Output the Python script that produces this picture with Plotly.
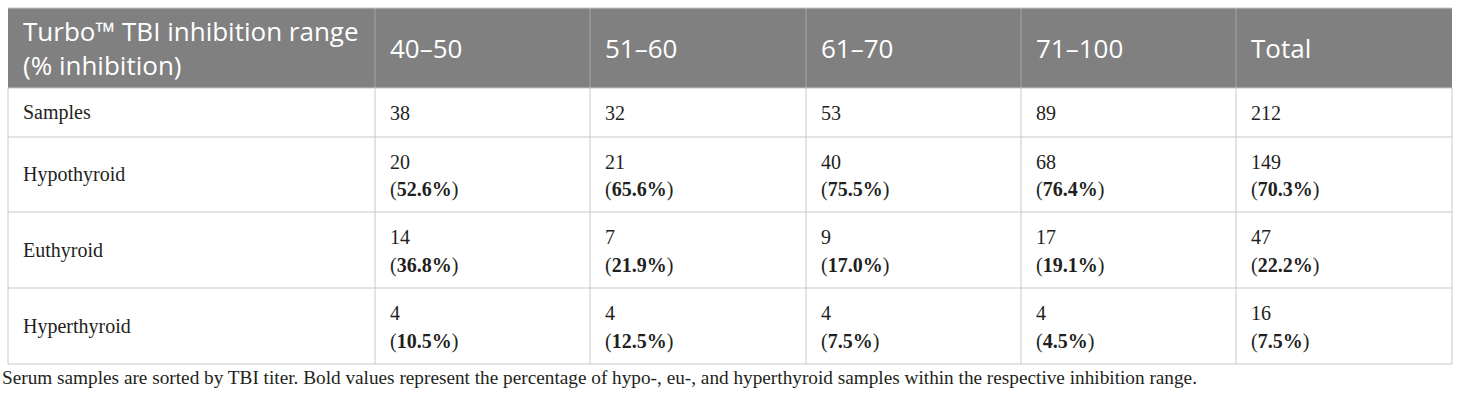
import plotly.graph_objects as go

# ---- data ----
header_label = "Turbo™ TBI inhibition range<br>(% inhibition)"
categories = ["40–50", "51–60", "61–70", "71–100", "Total"]
row_labels = ["Samples", "Hypothyroid", "Euthyroid", "Hyperthyroid"]
samples = [38, 32, 53, 89, 212]
hypo = [20, 21, 40, 68, 149]
hypo_pct = [52.6, 65.6, 75.5, 76.4, 70.3]
eu = [14, 7, 9, 17, 47]
eu_pct = [36.8, 21.9, 17.0, 19.1, 22.2]
hyper = [4, 4, 4, 4, 16]
hyper_pct = [10.5, 12.5, 7.5, 4.5, 7.5]
footnote = ("Serum samples are sorted by TBI titer. Bold values represent the percentage of "
            "hypo-, eu-, and hyperthyroid samples within the respective inhibition range.")

# ---- layout geometry (page pixel coordinates) ----
W, H = 1460, 401
col_edges = [8, 375, 590, 806, 1021, 1236, 1452]
row_edges = [8, 88, 137, 212, 288, 364]
pad = 13
HEAD_FILL = "#7f807f"
HEAD_SEP = "#a3a3a3"
GRID = "#c9c9c9"
TXT = "#231f20"
SANS = "Open Sans"
SERIF = "Liberation Serif"
HEAD_SIZE = 26
BODY_SIZE = 20
FOOT_SIZE = 19.25

fig = go.Figure()
fig.add_trace(go.Scatter(x=[0, W], y=[0, H], mode="markers",
                         marker=dict(opacity=0), hoverinfo="skip", showlegend=False))

shapes = []
ann = []

# header background
shapes.append(dict(type="rect", x0=col_edges[0], x1=col_edges[-1], y0=row_edges[0], y1=row_edges[1],
                   fillcolor=HEAD_FILL, line=dict(width=0), layer="below"))
# header separators
for x in col_edges[1:-1]:
    shapes.append(dict(type="line", x0=x, x1=x, y0=row_edges[0], y1=row_edges[1],
                       line=dict(color=HEAD_SEP, width=1)))
# body grid
for x in col_edges:
    shapes.append(dict(type="line", x0=x, x1=x, y0=row_edges[1], y1=row_edges[-1],
                       line=dict(color=GRID, width=1)))
for y in row_edges:
    shapes.append(dict(type="line", x0=col_edges[0], x1=col_edges[-1], y0=y, y1=y,
                       line=dict(color=GRID, width=1)))

def add_text(x, y, text, size, family, color):
    ann.append(dict(x=x, y=y, xref="x", yref="y", text=text, showarrow=False,
                    xanchor="left", yanchor="middle", align="left",
                    font=dict(size=size, family=family, color=color)))

# header texts
hy = (row_edges[0] + row_edges[1]) / 2
add_text(col_edges[0] + pad, hy, header_label, HEAD_SIZE, SANS, "white")
for i, c in enumerate(categories):
    add_text(col_edges[i + 1] + pad, hy, c, HEAD_SIZE, SANS, "white")

# body
counts = [samples, hypo, eu, hyper]
pcts = [None, hypo_pct, eu_pct, hyper_pct]
for r, lab in enumerate(row_labels):
    y0, y1 = row_edges[r + 1], row_edges[r + 2]
    yc = (y0 + y1) / 2
    add_text(col_edges[0] + pad, yc, lab, BODY_SIZE, SERIF, TXT)
    for i in range(len(categories)):
        x = col_edges[i + 1] + pad
        if pcts[r] is None:
            add_text(x, yc, str(counts[r][i]), BODY_SIZE, SERIF, TXT)
        else:
            add_text(x, yc - 13, str(counts[r][i]), BODY_SIZE, SERIF, TXT)
            add_text(x, yc + 15, "(<b>%.1f%%</b>)" % pcts[r][i], BODY_SIZE, SERIF, TXT)

# footnote
add_text(0, 377, footnote, FOOT_SIZE, SERIF, TXT)

fig.update_layout(
    width=W, height=H, margin=dict(l=0, r=0, t=0, b=0),
    paper_bgcolor="white", plot_bgcolor="white",
    xaxis=dict(range=[0, W], visible=False, fixedrange=True),
    yaxis=dict(range=[H, 0], visible=False, fixedrange=True),
    shapes=shapes, annotations=ann, showlegend=False,
)
fig.write_html("out.html", config={"displayModeBar": False},
               post_script="document.body.style.margin='0';")
